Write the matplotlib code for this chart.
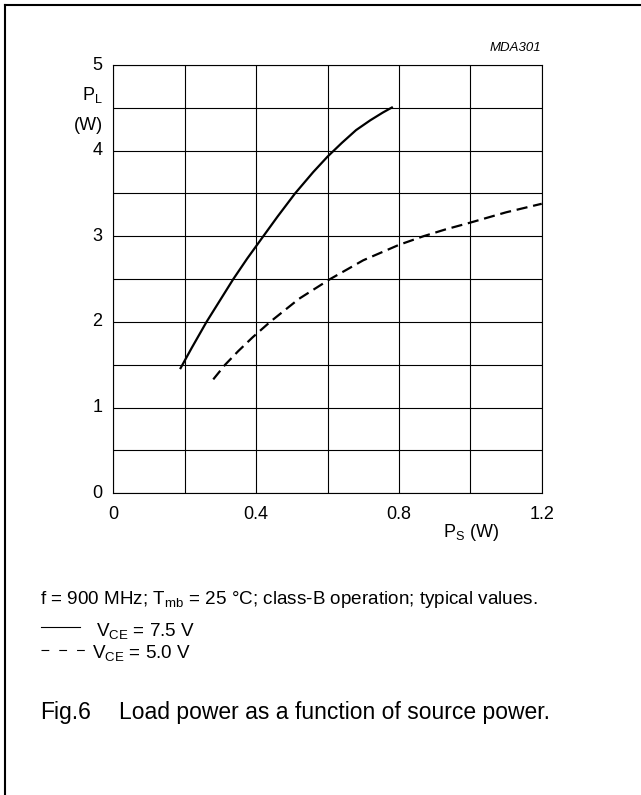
import matplotlib
matplotlib.use("Agg")
import matplotlib.pyplot as plt
import matplotlib.lines as mlines

plt.rcParams["font.family"] = ["Liberation Sans", "DejaVu Sans"]
plt.rcParams["mathtext.fontset"] = "custom"
plt.rcParams["mathtext.rm"] = "Liberation Sans"
plt.rcParams["mathtext.it"] = "Liberation Sans:italic"

# P_S (W) vs P_L (W)
ps_75 = [0.187, 0.22, 0.261, 0.30, 0.336, 0.375, 0.42, 0.46, 0.509, 0.56, 0.60, 0.64, 0.68, 0.72, 0.755, 0.783]
pl_75 = [1.45, 1.70, 2.00, 2.26, 2.50, 2.74, 3.00, 3.23, 3.50, 3.75, 3.93, 4.09, 4.24, 4.355, 4.445, 4.51]
ps_50 = [0.280, 0.313, 0.35, 0.39, 0.439, 0.52, 0.607, 0.70, 0.80, 0.868, 0.93, 1.00, 1.10, 1.20]
pl_50 = [1.33, 1.50, 1.66, 1.82, 2.00, 2.27, 2.50, 2.72, 2.90, 3.00, 3.08, 3.16, 3.28, 3.38]

x_ticks = [0, 0.4, 0.8, 1.2]
y_ticks = [0, 1, 2, 3, 4, 5]

W, H = 641, 795


def fx(px):
    return px / W


def fy(py):
    return 1 - py / H


fig = plt.figure(figsize=(W / 100, H / 100), dpi=100)
ax = fig.add_axes([fx(113.3), fy(493.3), (541.7 - 113.3) / W, (493.3 - 65) / H])

ax.plot(ps_75, pl_75, color="black", lw=1.6, solid_capstyle="butt")
ax.plot(ps_50, pl_50, color="black", lw=1.6, dashes=(5, 2.6))

ax.set_xlim(0, 1.2)
ax.set_ylim(0, 5)
ax.set_xticks([i * 0.2 for i in range(7)])
ax.set_yticks([i * 0.5 for i in range(11)])
ax.grid(True, color="black", lw=0.8)
ax.tick_params(length=0, labelbottom=False, labelleft=False)
for s in ax.spines.values():
    s.set_linewidth(0.8)

fs = 13
for v in x_ticks:
    ax.text(v, -0.3, f"{v:g}", ha="center", va="baseline", fontsize=fs)
for v in y_ticks:
    ax.text(-0.026, v, f"{v:g}", ha="right", va="center", fontsize=fs,
            transform=ax.get_yaxis_transform())

fig.text(fx(103), fy(100), r"P$_\mathrm{L}$", ha="right", va="baseline", fontsize=fs)
fig.text(fx(103), fy(125), "(W)", ha="right", va="center", fontsize=fs)
fig.text(fx(443), fy(537), r"P$_\mathrm{S}$ (W)", ha="left", va="baseline", fontsize=fs)
fig.text(fx(541), fy(51), "MDA301", ha="right", va="baseline", fontsize=9.5, style="italic")

fn = 13.6
fig.text(fx(40), fy(604),
         r"f = 900 MHz; T$_\mathrm{mb}$ = 25 °C; class-B operation; typical values.",
         ha="left", va="baseline", fontsize=fn)
fig.add_artist(mlines.Line2D([fx(41), fx(80)], [fy(627), fy(627)], color="black", lw=0.8,
                             transform=fig.transFigure))
fig.text(fx(96), fy(636), r"V$_\mathrm{CE}$ = 7.5 V", ha="left", va="baseline", fontsize=fn)
fig.add_artist(mlines.Line2D([fx(41), fx(92)], [fy(650), fy(650)], color="black", lw=0.8,
                             dashes=(7, 9), transform=fig.transFigure))
fig.text(fx(92), fy(658), r"V$_\mathrm{CE}$ = 5.0 V", ha="left", va="baseline", fontsize=fn)

fig.text(fx(40), fy(719.5), "Fig.6", ha="left", va="baseline", fontsize=16.5)
fig.text(fx(119), fy(719.5), "Load power as a function of source power.",
         ha="left", va="baseline", fontsize=16.5)

# cadre extérieur (haut et gauche)
fig.add_artist(mlines.Line2D([fx(5), fx(5)], [0, fy(5)], color="black", lw=1.5,
                             transform=fig.transFigure))
fig.add_artist(mlines.Line2D([fx(5), 1], [fy(5), fy(5)], color="black", lw=1.5,
                             transform=fig.transFigure))

fig.savefig("out.png", dpi=100)
